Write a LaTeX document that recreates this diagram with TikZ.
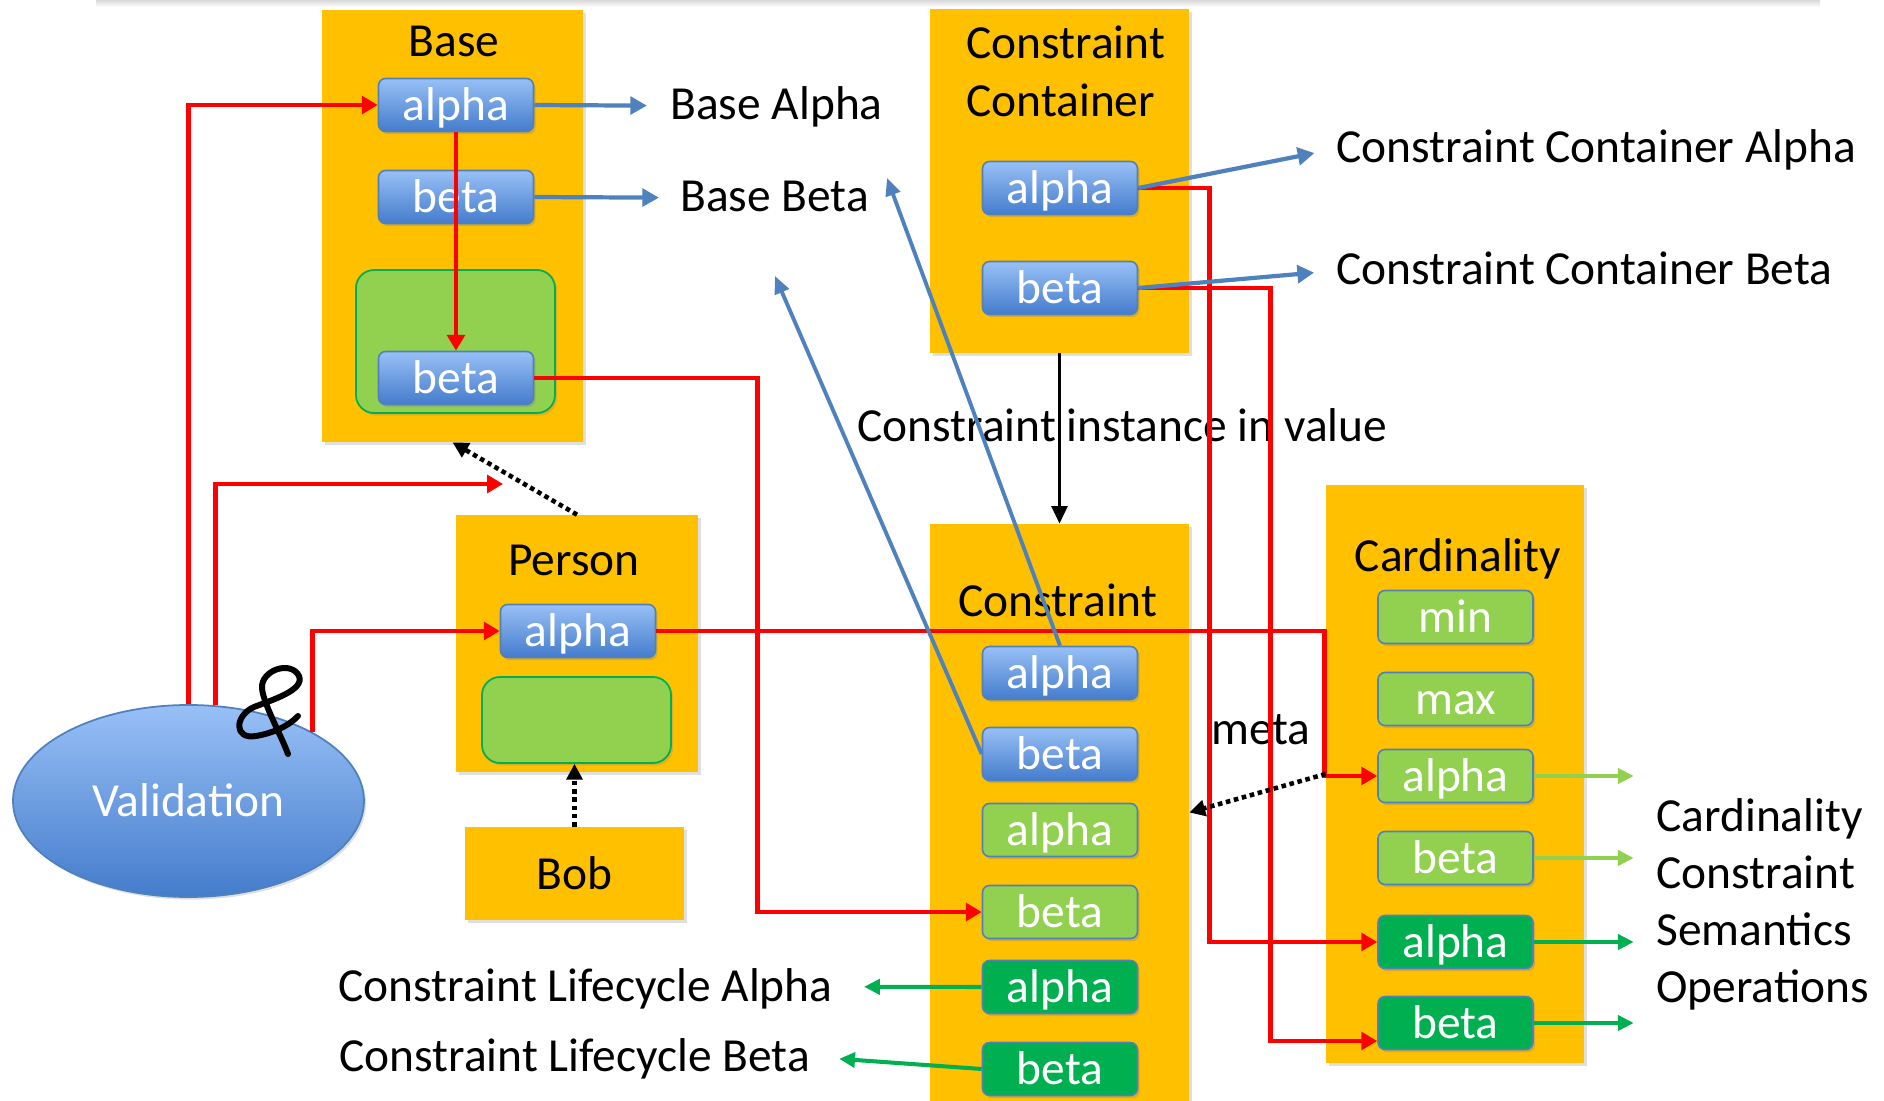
\documentclass[tikz,border=0pt]{standalone}
\usepackage{fontspec}
\setmainfont{Carlito}
\usetikzlibrary{arrows.meta}
\usetikzlibrary{calc}
\usetikzlibrary{shapes.geometric}
\usetikzlibrary{shadows}

\definecolor{boxgold}{RGB}{255,192,0}
\definecolor{bluetop}{RGB}{152,192,246}
\definecolor{bluebot}{RGB}{68,124,204}
\definecolor{blueedge}{RGB}{79,129,189}
\definecolor{linkblue}{RGB}{79,129,189}
\definecolor{lightgreen}{RGB}{146,208,80}
\definecolor{darkgreen}{RGB}{0,176,80}

\begin{document}
\begin{tikzpicture}[x=0.02cm, y=-0.02cm,
    font=\fontsize{27}{32.5}\selectfont,
    box/.style 2 args={fill=boxgold, minimum width=#1*0.02cm, minimum height=#2*0.02cm, inner sep=0pt,
        drop shadow={shadow xshift=1.5pt, shadow yshift=-1.5pt, opacity=0.25}},
    item/.style={rounded corners=0.14cm, draw=blueedge, line width=0.9pt, minimum width=3.1cm,
        minimum height=1.06cm, inner ysep=0pt, text=white, text height=23.2pt, text depth=5.4pt,
        drop shadow={shadow xshift=1.2pt, shadow yshift=-1.5pt, opacity=0.3}},
    bitem/.style={item, top color=bluetop, bottom color=bluebot},
    gitem/.style={item, fill=#1},
    holder/.style 2 args={fill=lightgreen, draw=darkgreen, line width=1pt, rounded corners=0.36cm,
        minimum width=#1*0.02cm, minimum height=#2*0.02cm,
        drop shadow={shadow xshift=1.2pt, shadow yshift=-1.5pt, opacity=0.25}},
    title/.style={inner sep=0pt, anchor=base},
    lbl/.style={inner sep=0pt, anchor=base west, text height=19.5pt, text depth=3.3pt},
    redarrow/.style={red, line width=2.8pt, -{Triangle[length=9pt,width=10pt]}},
    bluearrow/.style={linkblue, line width=2.4pt, -{Triangle[length=9.5pt,width=10pt]}},
    bluelong/.style={linkblue, line width=2.2pt, -{Triangle[length=10pt,width=8.5pt]}},
    greenarrow/.style={draw=#1, line width=2.3pt, -{Triangle[length=9pt,width=8.5pt]}},
    dotarrow/.style={black, line width=2.6pt, dash pattern=on 2.6pt off 2.1pt, -{Triangle[length=9pt,width=9pt]}}]
    \useasboundingbox (0,0) rectangle (1884,1101);
    \shade[top color=black!15, bottom color=white] (96,0) rectangle (1820,7);

    % class boxes
    \node[box={261}{432}] (bbox) at (452.5,226) {};
    \node[box={259}{344}] (ccbox) at (1059.5,181) {};
    \node[box={242}{257}] (pbox) at (577,643.5) {};
    \node[box={219}{93}, text height=23.2pt, text depth=5.4pt] (bob) at (574.5,873.5) {Bob};
    \node[box={259}{577}] (cbox) at (1059.5,812.5) {};
    \node[box={258}{578}] (kbox) at (1455,774) {};
    \node[ellipse, minimum width=351*0.02cm, minimum height=192*0.02cm, top color=bluetop, bottom color=bluebot,
        draw=blueedge, line width=1pt, text=white, text height=23.2pt, text depth=5.4pt,
        drop shadow={shadow xshift=1.2pt, shadow yshift=-1.5pt, opacity=0.25}] (val) at (188.5,801) {Validation};

    % titles
    \node[title] (tbase) at (454,57) {Base};
    \node[anchor=north west, align=left, inner sep=0pt] (tcc) at (966,26) {Constraint\\Container};
    \node[title] (tperson) at (574,576) {Person};
    \node[title] (tcons) at (1058,616) {Constraint};
    \node[title] (tcard) at (1458,571) {Cardinality};

    % members
    \node[bitem] (balpha) at (456,105) {alpha};
    \node[bitem] (bbeta) at (456,197) {beta};
    \node[holder={199}{143}] (bgreen) at (455.5,341.5) {};
    \node[bitem] (bbeta2) at (456,378) {beta};
    \node[bitem] (ccalpha) at (1060,188) {alpha};
    \node[bitem] (ccbeta) at (1060,288) {beta};
    \node[bitem] (palpha) at (578,631) {alpha};
    \node[holder={189}{86}] (pgreen) at (576.5,720) {};
    \node[bitem] (calpha) at (1060,673) {alpha};
    \node[bitem] (cbeta) at (1060,754) {beta};
    \foreach \y/\nm/\txt/\col in {830/clalpha/alpha/lightgreen,912/clbeta/beta/lightgreen,987/cdalpha/alpha/darkgreen,1069/cdbeta/beta/darkgreen}
    \node[gitem=\col] (\nm) at (1060,\y) {\txt};
    \foreach \y/\nm/\txt/\col in {617/kmin/min/lightgreen,699/kmax/max/lightgreen,776/kalpha/alpha/lightgreen,858/kbeta/beta/lightgreen,942/kdalpha/alpha/darkgreen,1023/kdbeta/beta/darkgreen}
    \node[gitem=\col] (\nm) at (1455.5,\y) {\txt};

    % free labels
    \node[lbl] (lbalpha) at (670,120) {Base Alpha};
    \node[lbl] (lbbeta) at (680,212) {Base Beta};
    \node[lbl] (lccalpha) at (1336,163) {Constraint Container Alpha};
    \node[lbl] (lccbeta) at (1336,285) {Constraint Container Beta};
    \node[lbl] (linst) at (857,442) {Constraint instance in value};
    \node[lbl] (lmeta) at (1211,744) {meta};
    \node[lbl] (llcalpha) at (338,1001) {Constraint Lifecycle Alpha};
    \node[lbl] (llcbeta) at (339,1071) {Constraint Lifecycle Beta};
    \node[anchor=north west, align=left, inner sep=0pt] (lsem) at (1656,798) {Cardinality\\Constraint\\Semantics\\Operations};

    \coordinate (vtip) at (503,484);
    \coordinate (ctipA) at (887,178);
    \coordinate (ctipB) at (775,276);

    % validation paths
    \draw[redarrow] (val.north) |- (balpha.west);
    \draw[redarrow] (val.74) |- (vtip);
    \draw[redarrow] (val.29) |- (palpha.west);
    \draw[redarrow] (balpha.south) -- (bbeta2.north);
    \draw[redarrow] (bbeta2.east) -- ++(223,0) |- (clbeta.west);
    \draw[redarrow] (palpha.east) -- ++(668,0) |- (kalpha.west);
    \draw[redarrow] (ccalpha.east) -- ++(71,0) |- (kdalpha.west);
    \draw[redarrow] (ccbeta.east) -- ++(132,0) |- ($(kdbeta.west)+(0,18)$);

    % semantics
    \draw[bluearrow, shorten >=0.46cm] (balpha.east) -- (lbalpha.west);
    \draw[bluearrow, shorten >=0.42cm] (bbeta.east) -- (lbbeta.west);
    \draw[bluearrow, shorten >=0.44cm] (ccalpha.east) -- (lccalpha.west);
    \draw[bluearrow, shorten >=0.44cm] (ccbeta.east) -- (lccbeta.west);
    \draw[bluelong] (calpha.north) -- (ctipA);
    \draw[bluelong] (cbeta.west) -- (ctipB);
    \draw[greenarrow=darkgreen, shorten >=0.62cm] (cdalpha.west) -- (llcalpha.east);
    \draw[greenarrow=darkgreen, shorten >=0.58cm] (cdbeta.west) -- (llcbeta.east);
    \foreach \nm/\col in {kalpha/lightgreen,kbeta/lightgreen,kdalpha/darkgreen,kdbeta/darkgreen}
    \draw[greenarrow=\col] (\nm.east) -- ++(100,0);

    % instance and meta links
    \draw[black, line width=1.9pt, -{Triangle[length=10pt,width=9pt]}] (ccbox.south) -- (cbox.north);
    \draw[dotarrow] (pbox.north) -- (bbox.south);
    \draw[dotarrow] (bob.north) -- (bob.north |- pgreen.south);
    \draw[dotarrow] (kbox.west) -- (cbox.east);

    % the ampersand
    \draw[line width=3.4pt, line cap=round, line join=round] (288,754) .. controls (281,735) and (263,703) .. (262,688)
        .. controls (261,670) and (291,660) .. (299,676) .. controls (305,690) and (272,700) .. (254,707)
        .. controls (234,716) and (234,740) .. (256,736) .. controls (274,733) and (290,725) .. (298,716);
\end{tikzpicture}
\end{document}
